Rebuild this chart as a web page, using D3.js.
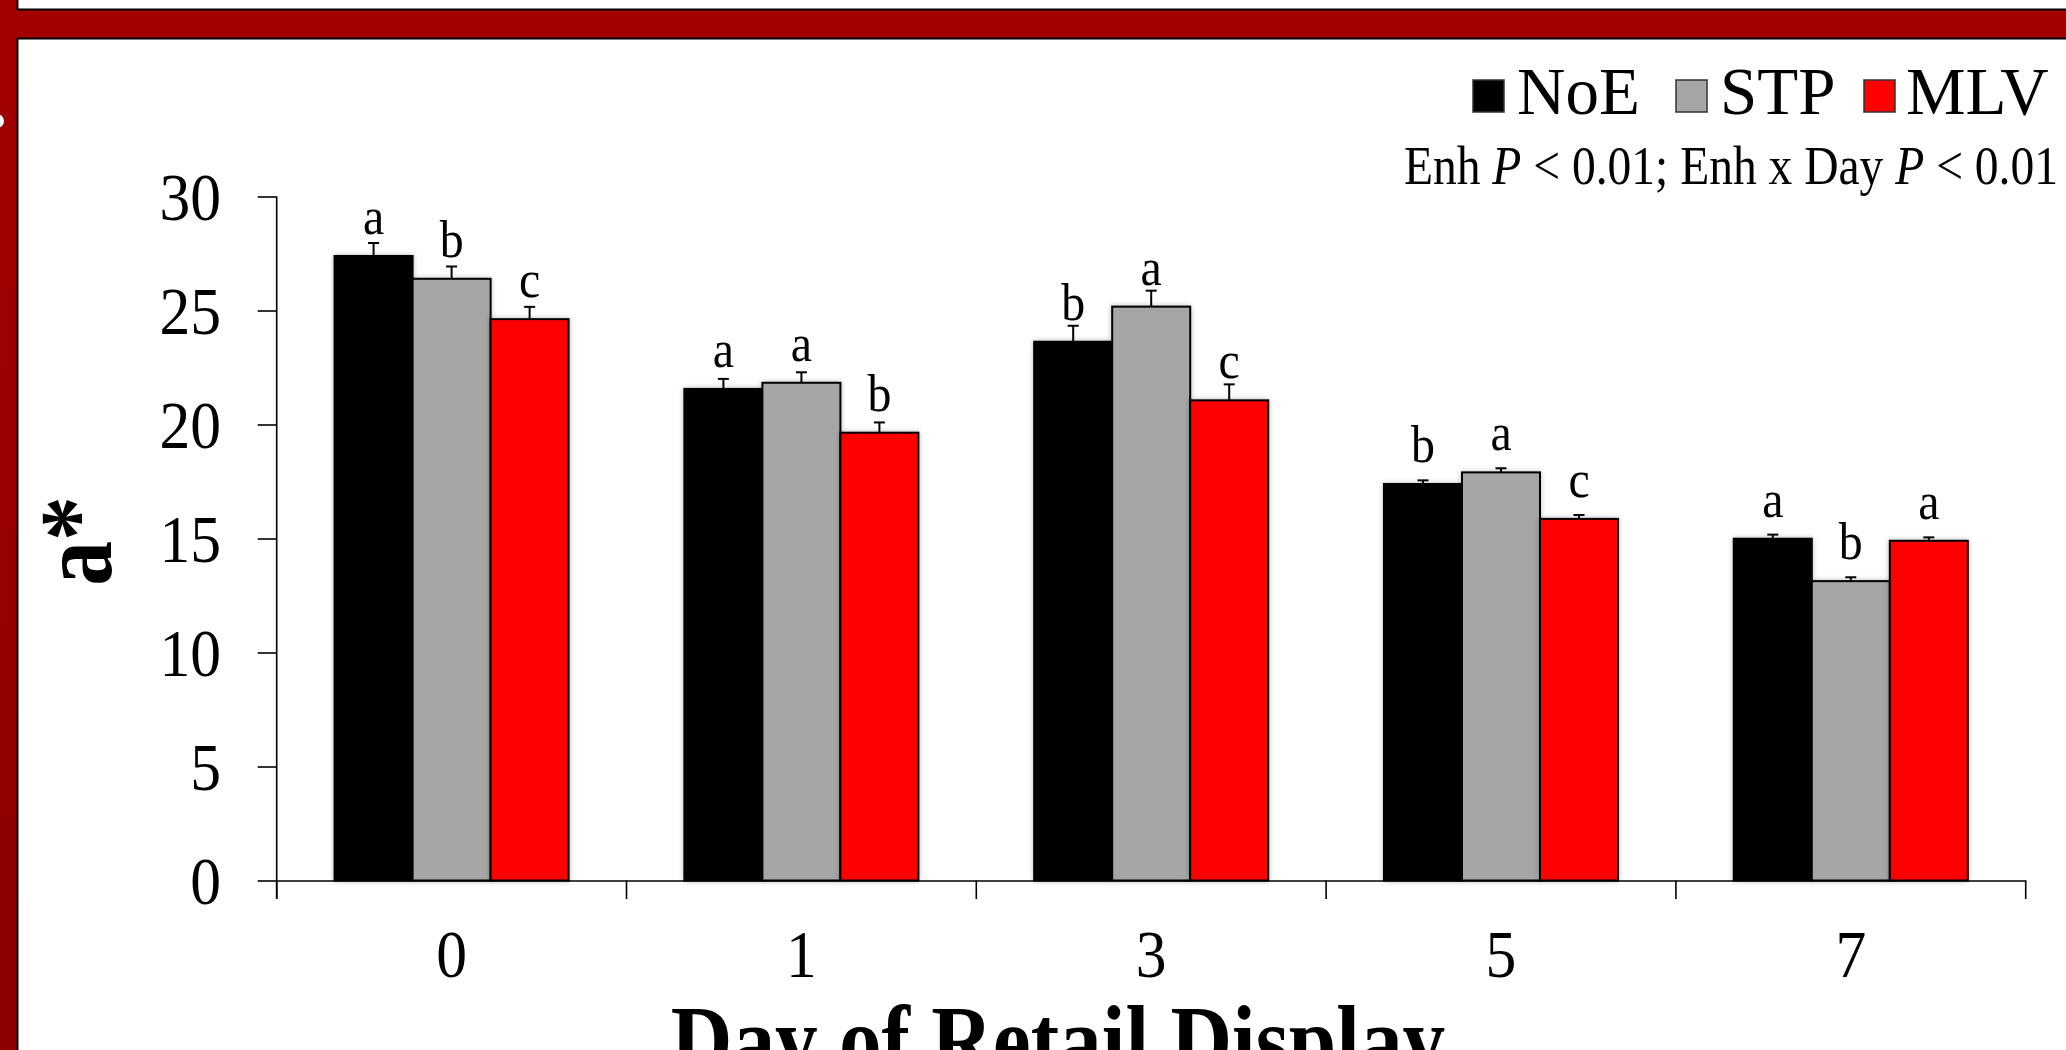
<!DOCTYPE html>
<html>
<head>
<meta charset="utf-8">
<script src="https://cdn.jsdelivr.net/npm/d3@7"></script>
<style>
  html, body { margin: 0; padding: 0; background: #ffffff; overflow: hidden; }
  svg { display: block; }
  text { font-family: "Times New Roman", "Liberation Serif", "DejaVu Serif", serif; fill: #000; }
</style>
</head>
<body>
<svg id="chart" width="2066" height="1050"></svg>
<script>
// Day of retail display (x categories)
const days = ["0", "1", "3", "5", "7"];
// Enhancement treatments
const series = ["NoE", "STP", "MLV"];
const seriesColors = ["#000000", "#a6a6a6", "#ff0000"];

// Mean a* per treatment for each day
const noeMeans = [27.39, 21.56, 23.63, 17.39, 14.99];
const stpMeans = [26.39, 21.83, 25.17, 17.90, 13.13];
const mlvMeans = [24.62, 19.64, 21.06, 15.86, 14.90];

// Standard errors (upper whiskers only)
const noeSE = [0.57, 0.44, 0.70, 0.16, 0.18];
const stpSE = [0.54, 0.46, 0.70, 0.18, 0.17];
const mlvSE = [0.54, 0.45, 0.70, 0.17, 0.15];

// Mean-separation letters
const noeLetters = ["a", "a", "b", "b", "a"];
const stpLetters = ["b", "a", "a", "a", "b"];
const mlvLetters = ["c", "b", "c", "c", "a"];

const yTicks = [0, 5, 10, 15, 20, 25, 30];
const statsNote = [
  {t: "Enh ", i: false}, {t: "P", i: true}, {t: " < 0.01; Enh x Day ", i: false},
  {t: "P", i: true}, {t: " < 0.01", i: false}
];

const means = [noeMeans, stpMeans, mlvMeans];
const ses = [noeSE, stpSE, mlvSE];
const letters = [noeLetters, stpLetters, mlvLetters];

const rows = [];
days.forEach((d, di) => {
  series.forEach((s, si) => {
    rows.push({day: d, series: s, color: seriesColors[si],
      mean: means[si][di], se: ses[si][di], letter: letters[si][di]});
  });
});

const svg = d3.select("#chart");
const defs = svg.append("defs");

// soft halo behind the bars
const shadow = defs.append("filter").attr("id", "barShadow")
  .attr("x", "-10%").attr("y", "-10%").attr("width", "120%").attr("height", "120%");
shadow.append("feDropShadow").attr("dx", 0).attr("dy", 0)
  .attr("stdDeviation", 2.5).attr("flood-color", "#000").attr("flood-opacity", 0.28);

// dark red frame gradient
const grad = defs.append("linearGradient").attr("id", "frameRed")
  .attr("x1", 0).attr("y1", 0).attr("x2", 0).attr("y2", 1);
grad.append("stop").attr("offset", "0%").attr("stop-color", "#a40000");
grad.append("stop").attr("offset", "100%").attr("stop-color", "#8c0000");

// L-shaped slide frame (left column + top band)
svg.append("path")
  .attr("d", "M-5,-5 L17.5,-5 L17.5,9.5 L2075,9.5 L2075,38.5 L17.5,38.5 L17.5,1060 L-5,1060 Z")
  .attr("fill", "url(#frameRed)")
  .attr("stroke", "#000").attr("stroke-width", 2);
svg.append("circle").attr("cx", -3).attr("cy", 121).attr("r", 7).attr("fill", "#fff");

// scales
const x = d3.scaleBand().domain(days).range([276.7, 2025.7]).padding(0);
const xInner = d3.scaleBand().domain(series).range([0, x.bandwidth()])
  .paddingInner(0).paddingOuter(0.742);
const y = d3.scaleLinear().domain([0, 30]).range([880.5, 196.5]);

// helper: text squeezed horizontally like the condensed serif in the slide
function squeezed(parent, px, py, sx, opts) {
  const g = parent.append("g").attr("transform", `translate(${px},${py}) scale(${sx},1)`);
  const t = g.append("text")
    .attr("text-anchor", opts.anchor || "middle")
    .attr("font-size", opts.size)
    .attr("font-weight", opts.weight || "normal");
  return t;
}

// Y axis
const yAxis = d3.axisLeft(y).tickValues(yTicks).tickSize(19).tickSizeOuter(0).tickPadding(37)
  .tickFormat(d3.format("d"));
const gy = svg.append("g").attr("transform", "translate(276.7,0)").call(yAxis);
gy.select(".domain").attr("stroke", "#000").attr("stroke-width", 1.6)
  .attr("d", `M0,${y(30)}V${y(0) + 18.5}`);
gy.selectAll(".tick line").attr("stroke", "#000").attr("stroke-width", 1.6);
gy.selectAll(".tick text").remove();
yTicks.forEach(v => {
  squeezed(svg, 221, y(v) + 23, 0.92, {size: 67, anchor: "end"}).text(v);
});

// X axis with boundary ticks between day groups
const xAxis = d3.axisBottom(x).tickSize(0).tickSizeOuter(0).tickFormat("");
const gx = svg.append("g").attr("transform", `translate(0,${y(0)})`).call(xAxis);
gx.select(".domain").attr("stroke", "#000").attr("stroke-width", 1.6);
const bounds = days.map(d => x(d)).concat([x.range()[1]]);
gx.selectAll(".bound").data(bounds).enter().append("line")
  .attr("class", "bound")
  .attr("x1", d => d).attr("x2", d => d)
  .attr("y1", 0).attr("y2", 18.5)
  .attr("stroke", "#000").attr("stroke-width", 1.6);
days.forEach(d => {
  squeezed(svg, x(d) + x.bandwidth() / 2, 977, 0.92, {size: 67}).text(d);
});

// Bars
const barG = svg.append("g");
barG.selectAll("rect").data(rows).enter().append("rect")
  .attr("x", d => x(d.day) + xInner(d.series))
  .attr("y", d => y(d.mean))
  .attr("width", xInner.bandwidth())
  .attr("height", d => y(0) - y(d.mean))
  .attr("fill", d => d.color)
  .attr("stroke", "#000").attr("stroke-width", 2)
  .attr("filter", "url(#barShadow)");

// Upper error whiskers
const errG = svg.append("g").attr("stroke", "#000").attr("stroke-width", 2);
rows.forEach(d => {
  const cx = x(d.day) + xInner(d.series) + xInner.bandwidth() / 2;
  errG.append("line").attr("x1", cx).attr("x2", cx)
    .attr("y1", y(d.mean)).attr("y2", y(d.mean + d.se));
  errG.append("line").attr("x1", cx - 5.5).attr("x2", cx + 5.5)
    .attr("y1", y(d.mean + d.se)).attr("y2", y(d.mean + d.se));
});

// Significance letters
rows.forEach(d => {
  const cx = x(d.day) + xInner(d.series) + xInner.bandwidth() / 2;
  squeezed(svg, cx, y(d.mean) - 22, 0.92, {size: 52}).text(d.letter);
});

// Y axis title
svg.append("g").attr("transform", "translate(111,541) rotate(-90) scale(0.87,1)")
  .append("text").attr("text-anchor", "middle").attr("font-size", 103)
  .attr("font-weight", "bold").text("a*");

// X axis title (runs off the bottom edge)
squeezed(svg, 1058, 1073, 0.87, {size: 98, weight: "bold"}).text("Day of Retail Display");

// Legend
const legendItems = [
  {label: "NoE", sq: 1473, tx: 1517},
  {label: "STP", sq: 1676, tx: 1720},
  {label: "MLV", sq: 1864, tx: 1906}
];
legendItems.forEach(it => {
  svg.append("rect").attr("x", it.sq).attr("y", 80).attr("width", 31).attr("height", 32)
    .attr("fill", seriesColors[series.indexOf(it.label)])
    .attr("stroke", "#333").attr("stroke-width", 1.5);
  squeezed(svg, it.tx, 114, 1.0, {size: 67, anchor: "start"}).text(it.label);
});

// Statistics note
const note = squeezed(svg, 2058, 184, 0.88, {size: 54, anchor: "end"});
statsNote.forEach(p => {
  note.append("tspan").attr("font-style", p.i ? "italic" : "normal").text(p.t);
});
</script>
</body>
</html>
